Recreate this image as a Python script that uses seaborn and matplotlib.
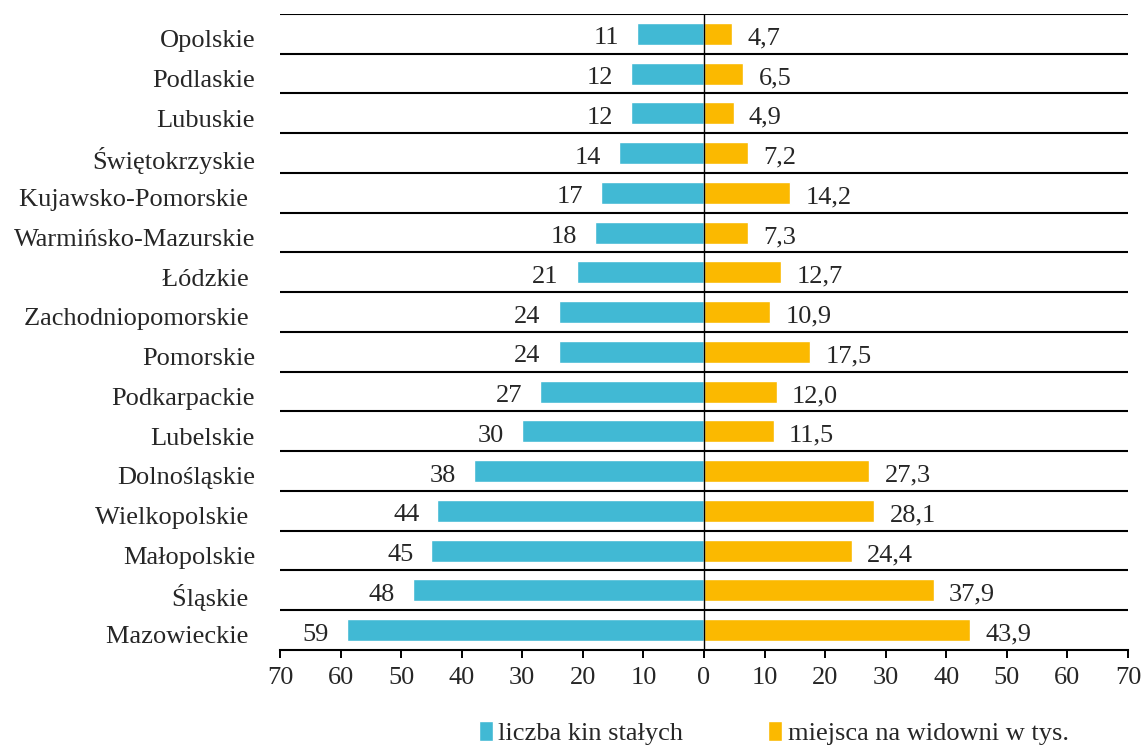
import matplotlib
matplotlib.use('Agg')
import matplotlib.pyplot as plt
import matplotlib.transforms as mtransforms
from matplotlib.patches import Patch
import seaborn as sns
import pandas as pd

# województwa (top to bottom as in the chart)
regions = ['Opolskie', 'Podlaskie', 'Lubuskie', 'Świętokrzyskie',
           'Kujawsko-Pomorskie ', 'Warmińsko-Mazurskie', 'Łódzkie ',
           'Zachodniopomorskie ', 'Pomorskie', 'Podkarpackie', 'Lubelskie',
           'Dolnośląskie', 'Wielkopolskie ', 'Małopolskie', 'Śląskie ',
           'Mazowieckie ']
cinemas = [11, 12, 12, 14, 17, 18, 21, 24, 24, 27, 30, 38, 44, 45, 48, 59]
seats = [4.7, 6.5, 4.9, 7.2, 14.2, 7.3, 12.7, 10.9, 17.5, 12.0, 11.5,
         27.3, 28.1, 24.4, 37.9, 43.9]
ticks = [-70, -60, -50, -40, -30, -20, -10, 0, 10, 20, 30, 40, 50, 60, 70]

blue = '#41B9D4'
orange = '#FBB900'

df = pd.DataFrame({'region': regions,
                   'left': [-c for c in cinemas],
                   'right': seats})

sns.set_style('white')
plt.rcParams['font.family'] = ['Liberation Serif', 'DejaVu Serif']
plt.rcParams['font.size'] = 19

fig = plt.figure(figsize=(11.41, 7.47), dpi=100)
ax = fig.add_axes([0.2454, 0.1299, 0.7432, 0.8514])

sns.barplot(data=df, y='region', x='left', color=blue, width=0.55,
            orient='h', ax=ax, saturation=1)
sns.barplot(data=df, y='region', x='right', color=orange, width=0.55,
            orient='h', ax=ax, saturation=1)

# value labels (a touch below bar centre, like the original)
for i, (c, s) in enumerate(zip(cinemas, seats)):
    ax.annotate(str(c), (-c, i), xytext=(-13, -1.5), textcoords='offset points',
                ha='right', va='center_baseline', fontsize=19)
    ax.annotate(f'{s:.1f}'.replace('.', ','), (s, i), xytext=(11, -1.5),
                textcoords='offset points', ha='left', va='center_baseline',
                fontsize=19)

ax.set_xlim(-70, 70)
ax.set_ylim(len(regions) - 0.5, -0.5)
ax.set_xticks(ticks)
ax.set_xticklabels([str(abs(t)) for t in ticks])
ax.set_xlabel('')
ax.set_ylabel('')

# separators between categories
for k in range(len(regions)):
    ax.axhline(k - 0.5, color='black', lw=1.5, zorder=0)
ax.axvline(0, color='black', lw=1.0, zorder=3)

for side in ['top', 'right', 'left']:
    ax.spines[side].set_visible(False)
ax.spines['bottom'].set_color('black')
ax.spines['bottom'].set_linewidth(1.5)
ax.tick_params(axis='x', direction='out', length=6, width=1.4,
               color='black', labelsize=19, pad=6, bottom=True)
ax.tick_params(axis='y', length=0, pad=18, labelsize=19)

# region names sit a little lower than the bars
shift = mtransforms.ScaledTranslation(0, -3.5 / 72, fig.dpi_scale_trans)
for tick in ax.yaxis.get_major_ticks():
    tick.label1.set_va('center_baseline')
    tick.label1.set_transform(tick.label1.get_transform() + shift)

handles = [Patch(facecolor=blue, label='liczba kin stałych'),
           Patch(facecolor=orange, label='miejsca na widowni w tys.')]
fig.legend(handles=handles, loc='center', bbox_to_anchor=(0.678, 0.019),
           ncol=2, frameon=False, fontsize=19, handlelength=0.55,
           handleheight=0.8, handletextpad=0.2, columnspacing=3.2)

fig.savefig('out.png', dpi=100)
